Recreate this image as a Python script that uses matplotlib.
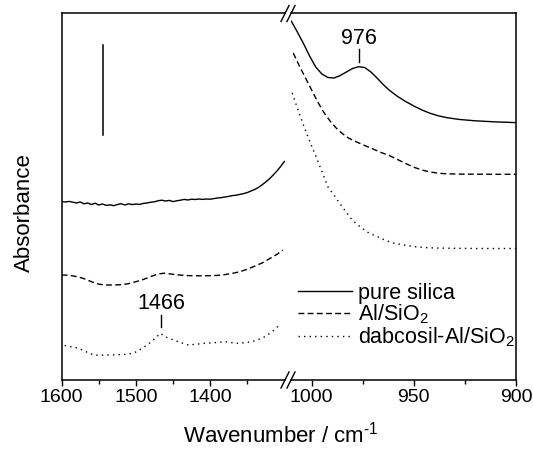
import matplotlib
matplotlib.use('Agg')
import matplotlib.pyplot as plt
from matplotlib.ticker import FixedLocator

plt.rcParams['font.family'] = ['Liberation Sans', 'DejaVu Sans']
plt.rcParams['mathtext.fontset'] = 'custom'
plt.rcParams['mathtext.rm'] = 'Liberation Sans'
plt.rcParams['mathtext.it'] = 'Liberation Sans:italic'
plt.rcParams['mathtext.bf'] = 'Liberation Sans:bold'

# ---------------- data (absorbance in arbitrary, offset units) ----------------
# left region (1600 - 1300 cm-1)
silica_left_wn = [1600, 1595, 1590, 1585, 1580, 1575, 1570, 1565, 1560, 1555, 1550, 1545,
                  1540, 1535, 1530, 1525, 1520, 1515, 1510, 1505, 1500, 1495, 1490, 1485,
                  1480, 1475, 1470, 1465, 1460, 1455, 1450, 1445, 1440, 1435, 1430, 1425,
                  1420, 1415, 1410, 1405, 1400, 1395, 1390, 1385, 1380, 1375, 1370, 1365,
                  1360, 1355, 1350, 1345, 1340, 1335, 1330, 1325, 1320, 1315, 1310, 1305, 1300]
silica_left_abs = [178.5, 178.0, 178.6, 177.8, 177.0, 178.0, 176.2, 177.0, 175.5, 176.8, 175.0, 176.0,
                   174.6, 175.2, 174.3, 175.5, 176.3, 175.0, 176.2, 175.4, 176.0, 175.6, 176.6, 177.0,
                   177.8, 178.2, 179.3, 179.8, 179.0, 179.6, 178.4, 179.2, 179.8, 180.6, 180.0, 180.8,
                   180.5, 181.0, 180.6, 181.0, 180.8, 181.4, 182.0, 182.4, 183.0, 183.6, 184.4, 184.8,
                   185.6, 186.4, 187.4, 189.0, 190.5, 192.5, 195.2, 198.0, 201.2, 205.0, 209.0, 213.5, 218.5]

al_left_wn = [1600, 1592, 1584, 1576, 1568, 1560, 1550, 1540, 1530, 1520, 1510, 1500, 1490,
              1480, 1470, 1462, 1455, 1445, 1430, 1415, 1400, 1390, 1380, 1370, 1360, 1350,
              1340, 1330, 1320, 1310, 1302]
al_left_abs = [105.0, 104.8, 104.0, 102.8, 100.8, 98.3, 95.8, 95.0, 95.0, 95.3, 96.3, 98.3, 100.5,
               103.5, 106.0, 106.8, 106.2, 105.2, 104.4, 104.2, 104.3, 104.6, 105.4, 106.6, 108.3, 110.7,
               113.8, 117.0, 121.3, 125.6, 130.0]

dab_left_wn = [1596, 1585, 1577, 1568, 1557, 1547, 1537, 1525, 1512, 1505, 1499, 1492, 1485,
               1479, 1474, 1467, 1462, 1456, 1449, 1443, 1436, 1429, 1418, 1407, 1393, 1380,
               1372, 1364, 1354, 1344, 1335, 1326, 1317, 1308]
dab_left_abs = [34.5, 33.0, 31.7, 28.5, 25.0, 24.8, 25.0, 25.3, 25.7, 26.8, 28.3, 31.5, 35.0,
                38.5, 41.7, 46.7, 44.0, 41.7, 40.0, 38.3, 36.5, 35.0, 35.8, 36.7, 37.4, 38.3,
                37.5, 36.7, 37.2, 38.3, 40.5, 43.3, 48.0, 54.0]

# right region (1010 - 900 cm-1)
silica_right_wn = [1010, 1007, 1004, 1001, 998, 995, 992, 989, 986, 983, 980, 977, 974, 971,
                   968, 965, 962, 958, 954, 950, 946, 942, 938, 934, 928, 920, 910, 900]
silica_right_abs = [359.0, 348.0, 336.5, 324.0, 313.0, 306.0, 302.5, 302.0, 304.5, 308.0, 311.5,
                    313.3, 312.5, 308.0, 302.0, 295.5, 289.8, 283.6, 278.5, 274.0, 270.0, 266.7,
                    264.2, 262.4, 260.6, 259.2, 258.1, 257.4]

al_right_wn = [1009, 1006, 1003, 1000, 997, 994, 991, 988, 985, 982, 978, 974, 970, 966, 962,
               958, 954, 950, 946, 942, 938, 934, 928, 920, 910, 900]
al_right_abs = [327.0, 314.0, 302.0, 290.0, 278.0, 267.5, 259.0, 252.0, 246.5, 242.0, 238.0,
                234.5, 231.0, 227.5, 224.5, 220.5, 216.5, 212.8, 210.0, 208.0, 206.8, 206.2,
                205.9, 205.8, 205.7, 205.7]

dab_right_wn = [1009.5, 1007, 1004, 1001, 998, 995, 992, 989, 986, 983, 980, 976, 972, 968,
                964, 960, 955, 950, 945, 940, 930, 920, 910, 900]
dab_right_abs = [287.0, 272.0, 255.0, 239.0, 224.0, 208.7, 193.0, 184.7, 175.9, 167.6, 159.4,
                 152.8, 147.0, 143.5, 139.7, 137.0, 135.0, 133.5, 132.5, 132.0, 131.7, 131.5,
                 131.5, 131.5]

series_labels = ['pure silica', 'Al/SiO$_2$', 'dabcosil-Al/SiO$_2$']

left_major_ticks = [1600, 1500, 1400]
left_minor_ticks = [1550, 1450, 1350]
right_major_ticks = [1000, 950, 900]
right_minor_ticks = [975, 925]

scale_bar_wn = 1545
scale_bar_abs = [245, 335]

peak_976_wn = 976.7
peak_976_line = [318.3, 330.7]
peak_976_text_y = 341.7
peak_1466_wn = 1466
peak_1466_line = [53.3, 65.0]
peak_1466_text_y = 76.7

# ---------------- figure ----------------
W, H = 533, 449
fig = plt.figure(figsize=(W / 100, H / 100), dpi=100)


def rect(x0, x1, y0=13.5, y1=380.0):
    return [x0 / W, 1 - y1 / H, (x1 - x0) / W, (y1 - y0) / H]


ax1 = fig.add_axes(rect(61.7, 285.0))
ax2 = fig.add_axes(rect(291.0, 516.0), sharey=ax1)

ax1.set_xlim(1600, 1299.1)
ax2.set_xlim(1010.1, 900)
ax1.set_ylim(0, 366.5)

lw = 1.0
solid = dict(color='black', lw=lw, linestyle='-')
dashed = dict(color='black', lw=lw, linestyle=(0, (4.2, 2.4)))
dotted = dict(color='black', lw=lw, linestyle=(0, (1.0, 3.0)))

ax1.plot(silica_left_wn, silica_left_abs, **solid)
ax1.plot(al_left_wn, al_left_abs, **dashed)
ax1.plot(dab_left_wn, dab_left_abs, **dotted)

h1, = ax2.plot(silica_right_wn, silica_right_abs, label=series_labels[0], **solid)
h2, = ax2.plot(al_right_wn, al_right_abs, label=series_labels[1], **dashed)
h3, = ax2.plot(dab_right_wn, dab_right_abs, label=series_labels[2], **dotted)

# scale bar
ax1.plot([scale_bar_wn, scale_bar_wn], scale_bar_abs, color='black', lw=1.1)

# annotations
ax2.plot([peak_976_wn, peak_976_wn], peak_976_line, color='black', lw=1.0)
ax2.text(peak_976_wn, peak_976_text_y, '976', ha='center', va='center', fontsize=15.5)
ax1.plot([peak_1466_wn, peak_1466_wn], peak_1466_line, color='black', lw=1.0)
ax1.text(peak_1466_wn, peak_1466_text_y, '1466', ha='center', va='center', fontsize=15.5)

# axes styling
for ax in (ax1, ax2):
    for s in ax.spines.values():
        s.set_linewidth(1.1)
    ax.tick_params(axis='y', left=False, right=False, labelleft=False, labelright=False)
    ax.tick_params(axis='x', which='major', direction='out', length=4.3, width=1.0,
                   pad=2.5, labelsize=14)
    ax.tick_params(axis='x', which='minor', direction='out', length=3.0, width=1.0)
ax1.spines['right'].set_visible(False)
ax2.spines['left'].set_visible(False)

ax1.xaxis.set_major_locator(FixedLocator(left_major_ticks))
ax1.xaxis.set_minor_locator(FixedLocator(left_minor_ticks))
ax2.xaxis.set_major_locator(FixedLocator(right_major_ticks))
ax2.xaxis.set_minor_locator(FixedLocator(right_minor_ticks))

# break marks
dx1, dx2, dy = 4 / 223.3, 4 / 225.0, 8 / 366.5
kw = dict(color='black', lw=1.0, clip_on=False)
for yy in (0, 1):
    ax1.plot([1 - dx1, 1 + dx1], [yy - dy, yy + dy], transform=ax1.transAxes, **kw)
    ax2.plot([-dx2, dx2], [yy - dy, yy + dy], transform=ax2.transAxes, **kw)

# legend
ax2.legend(handles=[h1, h2, h3], loc='upper left', bbox_to_anchor=(0.032, 0.265),
           frameon=False, fontsize=15.5, handlelength=2.5, handletextpad=0.3,
           labelspacing=-0.05, borderpad=0.0, borderaxespad=0.0)

# axis labels
fig.text(24 / W, 1 - 213 / H, 'Absorbance', rotation=90, ha='center', va='center', fontsize=16)
fig.text(281 / W, 1 - 443 / H, 'Wavenumber / cm$^{\\text{-}1}$', ha='center', va='baseline', fontsize=16)

fig.savefig('out.png', dpi=100)
